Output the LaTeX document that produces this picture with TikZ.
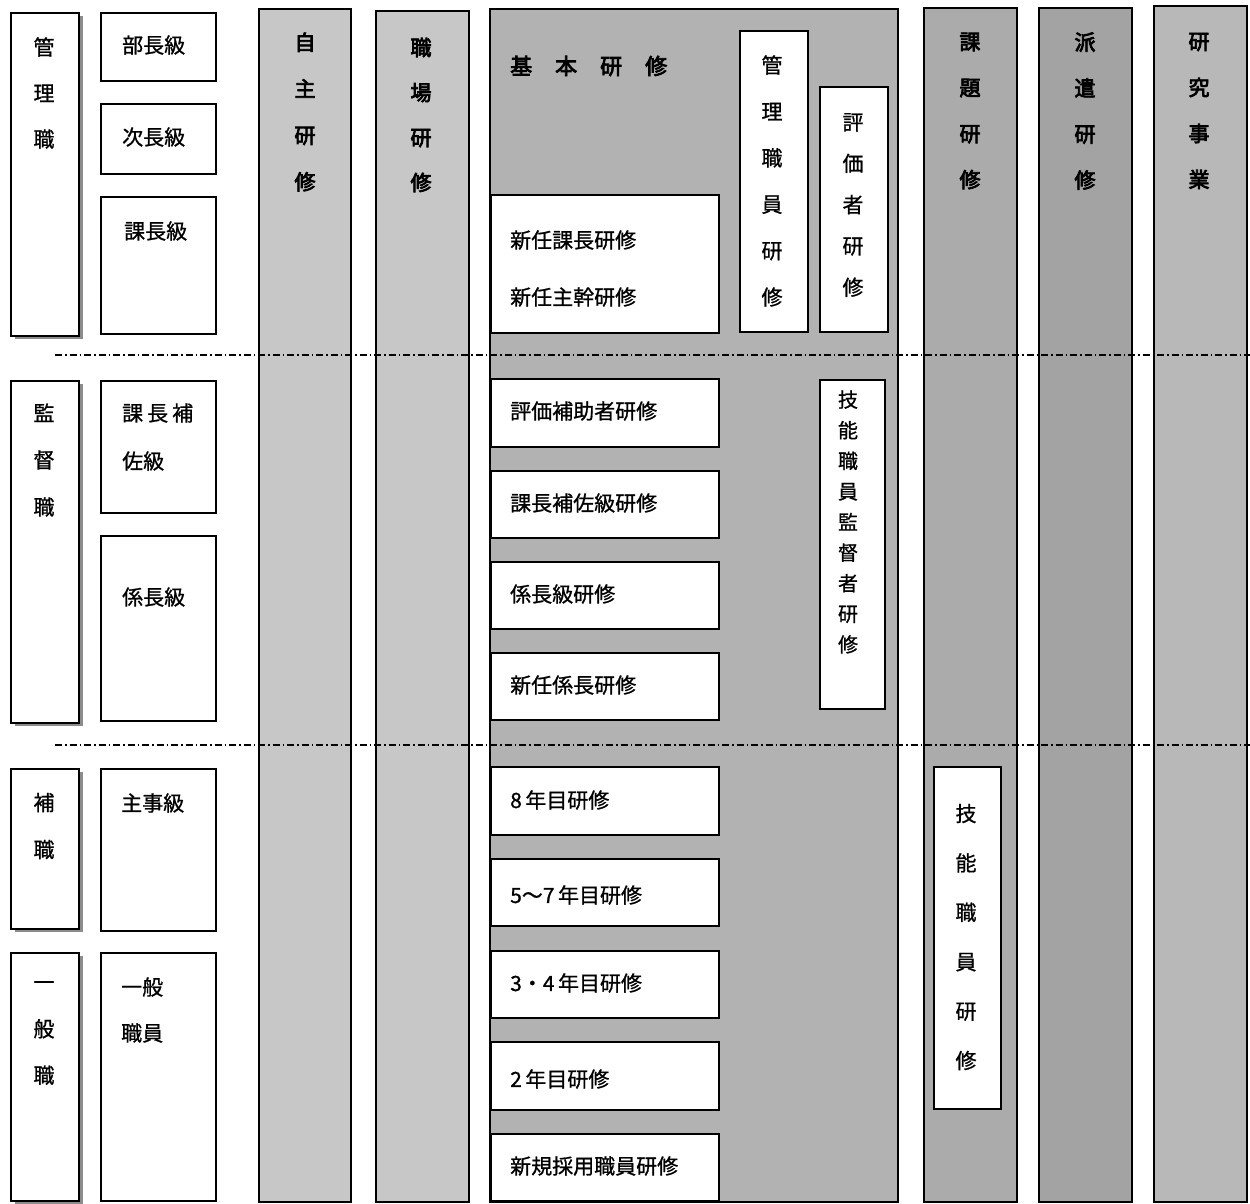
\documentclass[tikz,border=0pt]{standalone}
\usepackage{fontspec}
\setmainfont{Noto Sans CJK JP}
\newfontfamily\cjkm[FakeBold=0.9]{Noto Sans CJK JP}
\newfontfamily\cjkb[FakeBold=3.5]{Noto Sans CJK JP}
\usetikzlibrary{shadows}
\definecolor{gA}{gray}{0.78}
\definecolor{gB}{gray}{0.70}
\definecolor{gC}{gray}{0.67}
\definecolor{gD}{gray}{0.64}
\definecolor{gE}{gray}{0.72}
\begin{document}
\begin{tikzpicture}[x=1pt,y=-1pt,
  wbox/.style={draw, line width=1.5pt, fill=white, anchor=north west, inner sep=0pt},
  sbox/.style={wbox, drop shadow={shadow xshift=4pt, shadow yshift=-3pt, fill=black!45, opacity=1}},
  gcol/.style={draw, line width=1.8pt, anchor=north west, inner sep=0pt},
  txt/.style={inner sep=0pt, font=\cjkm\fontsize{21}{21}\selectfont},
  vtxt/.style={inner sep=0pt, align=center, font=\cjkm\fontsize{21}{#1}\selectfont},
  vtitle/.style={inner sep=0pt, align=center, font=\cjkb\fontsize{21}{#1}\selectfont},
  dashdot/.style={line width=1.6pt, dash pattern=on 7pt off 3pt on 1.5pt off 3pt}
]
\useasboundingbox (0,0) rectangle (1250,1203);

% gray columns
\node[gcol, fill=gA, minimum width=92pt, minimum height=1193pt] (colJ) at (258,8) {};
\node[gcol, fill=gA, minimum width=93pt, minimum height=1191pt] (colS) at (375,10) {};
\node[gcol, fill=gB, minimum width=408pt, minimum height=1193pt] (colK) at (489,8) {};
\node[gcol, fill=gC, minimum width=93pt, minimum height=1194pt] (colT) at (923,7) {};
\node[gcol, fill=gD, minimum width=93pt, minimum height=1194pt] (colH) at (1038,7) {};
\node[gcol, fill=gE, minimum width=93pt, minimum height=1196pt] (colR) at (1153,5) {};

% column titles
\node[vtitle=46.5] (tJ) at (305,112) {自\\主\\研\\修};
\node[vtitle=45] (tS) at (421,115) {職\\場\\研\\修};
\node[vtitle=46] (tT) at (970,111) {課\\題\\研\\修};
\node[vtitle=46] (tH) at (1085,111) {派\\遣\\研\\修};
\node[vtitle=46] (tR) at (1199,111) {研\\究\\事\\業};
\node[inner sep=0pt, font=\cjkb\fontsize{22}{22}\selectfont, anchor=west] (tK) at (510,66) {基\hspace{23pt}本\hspace{23pt}研\hspace{23pt}修};

% dash-dot separators
\coordinate (d1s) at (55,355);
\coordinate (d1e) at (1250,355);
\coordinate (d2s) at (55,745);
\coordinate (d2e) at (1250,745);
\draw[dashdot] (d1s) -- (d1e);
\draw[dashdot] (d2s) -- (d2e);

% category boxes
\node[sbox, minimum width=68pt, minimum height=323pt] (bKanri) at (10,12) {};
\node[sbox, minimum width=68pt, minimum height=342pt] (bKantoku) at (10,380) {};
\node[sbox, minimum width=68pt, minimum height=160pt] (bHo) at (10,768) {};
\node[sbox, minimum width=68pt, minimum height=248pt] (bIppan) at (10,952) {};
\node[vtxt=46] (lKanri) at (44,93) {管\\理\\職};
\node[vtxt=47] (lKantoku) at (44,460) {監\\督\\職};
\node[vtxt=47] (lHo) at (44,826) {補\\職};
\node[vtxt=46.5] (lIppan) at (44,1033) {一\\般\\職};

% level boxes
\node[wbox, minimum width=115pt, minimum height=68pt] (bBu) at (100,12) {};
\node[wbox, minimum width=115pt, minimum height=70pt] (bJi) at (100,103) {};
\node[wbox, minimum width=115pt, minimum height=137pt] (bKa) at (100,196) {};
\node[wbox, minimum width=115pt, minimum height=132pt] (bHosa) at (100,380) {};
\node[wbox, minimum width=115pt, minimum height=185pt] (bKakari) at (100,535) {};
\node[wbox, minimum width=115pt, minimum height=162pt] (bShuji) at (100,768) {};
\node[wbox, minimum width=115pt, minimum height=248pt] (bShokuin) at (100,952) {};
\node[txt, anchor=west] (lBu) at (122,45) {部長級};
\node[txt, anchor=west] (lJi) at (122,137) {次長級};
\node[txt, anchor=west] (lKa) at (124,231) {課長級};
\node[txt, anchor=west] (lHosa1) at (122,413) {課\hspace{4pt}長\hspace{4pt}補};
\node[txt, anchor=west] (lHosa2) at (122,461) {佐級};
\node[txt, anchor=west] (lKakari) at (122,597) {係長級};
\node[txt, anchor=west] (lShuji) at (121,803) {主事級};
\node[txt, anchor=west] (lShokuin1) at (121,987) {一般};
\node[txt, anchor=west] (lShokuin2) at (121,1033) {職員};

% basic training boxes
\node[wbox, minimum width=228pt, minimum height=138pt] (kShinnin) at (490,194) {};
\node[wbox, minimum width=228pt, minimum height=68pt] (kHyoka) at (490,378) {};
\node[wbox, minimum width=228pt, minimum height=67pt] (kHosa) at (490,470) {};
\node[wbox, minimum width=228pt, minimum height=67pt] (kKakari) at (490,561) {};
\node[wbox, minimum width=228pt, minimum height=67pt] (kShinKakari) at (490,652) {};
\node[wbox, minimum width=228pt, minimum height=68pt] (k8) at (490,766) {};
\node[wbox, minimum width=228pt, minimum height=67pt] (k57) at (490,858) {};
\node[wbox, minimum width=228pt, minimum height=67pt] (k34) at (490,950) {};
\node[wbox, minimum width=228pt, minimum height=68pt] (k2) at (490,1041) {};
\node[wbox, minimum width=228pt, minimum height=67pt] (k1) at (490,1133) {};
\node[txt, anchor=west] (lShinnin1) at (510,240) {新任課長研修};
\node[txt, anchor=west] (lShinnin2) at (510,297) {新任主幹研修};
\node[txt, anchor=west] (lHyoka) at (510,411) {評価補助者研修};
\node[txt, anchor=west] (lHosaK) at (510,503) {課長補佐級研修};
\node[txt, anchor=west] (lKakariK) at (510,594) {係長級研修};
\node[txt, anchor=west] (lShinKakari) at (510,685) {新任係長研修};
\node[txt, anchor=west] (l8) at (510,800) {8\,年目研修};
\node[txt, anchor=west] (l57) at (510,895) {5〜7\,年目研修};
\node[txt, anchor=west] (l34) at (510,983) {3・4\,年目研修};
\node[txt, anchor=west] (l2) at (510,1079) {2\,年目研修};
\node[txt, anchor=west] (l1) at (510,1166) {新規採用職員研修};

% vertical boxes inside basic column
\node[wbox, minimum width=68pt, minimum height=301pt] (vKanri) at (739,30) {};
\node[wbox, minimum width=68pt, minimum height=245pt] (vHyoka) at (819,86) {};
\node[wbox, minimum width=65pt, minimum height=329pt] (vGino) at (819,379) {};
\node[vtxt=46.4] (lvKanri) at (772,181) {管\\理\\職\\員\\研\\修};
\node[vtxt=41.3] (lvHyoka) at (853,205) {評\\価\\者\\研\\修};
\node[inner sep=0pt, align=center, font=\cjkm\fontsize{20}{30.6}\selectfont] (lvGino) at (848,522) {技\\能\\職\\員\\監\\督\\者\\研\\修};

% box in 課題研修 column
\node[wbox, minimum width=67pt, minimum height=342pt] (vGino2) at (933,766) {};
\node[vtxt=49.4] (lvGino2) at (966,937) {技\\能\\職\\員\\研\\修};
\end{tikzpicture}
\end{document}
